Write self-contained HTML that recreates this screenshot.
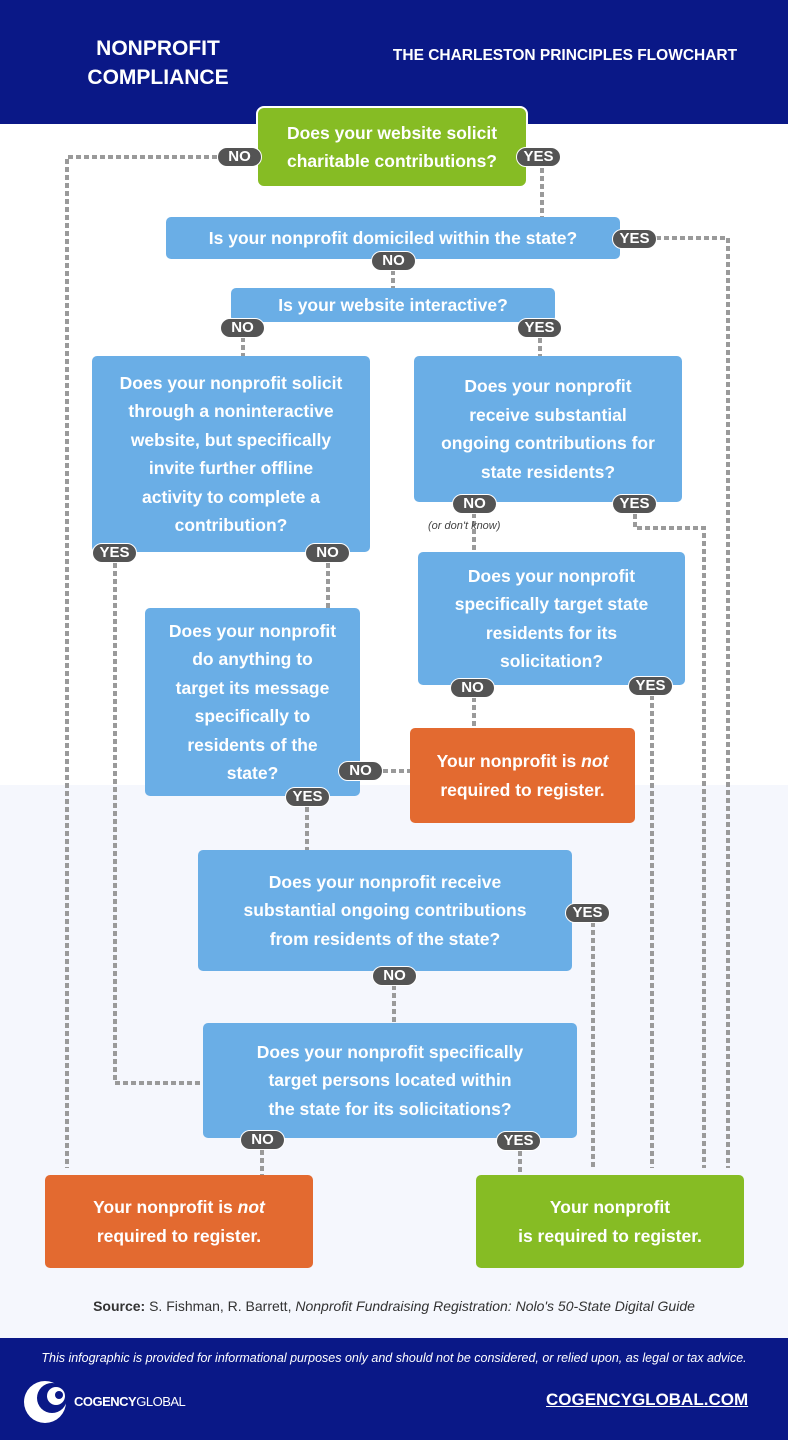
<!DOCTYPE html>
<html><head><meta charset="utf-8"><style>
*{margin:0;padding:0;box-sizing:border-box}
body{width:788px;height:1440px;position:relative;background:#fff;font-family:"Liberation Sans",sans-serif;overflow:hidden}
.hdr{position:absolute;left:0;top:0;width:788px;height:124px;background:#0a1887}
.light{position:absolute;left:0;top:785px;width:788px;height:553px;background:#f5f7fd}
.ftr{position:absolute;left:0;top:1338px;width:788px;height:102px;background:#0a1887}
.b{position:absolute;display:flex;align-items:center;justify-content:center;text-align:center;color:#fff;font-weight:bold;font-size:17.5px;line-height:28.5px;border-radius:5px}
.blue{background:#6aaee6}
.green{background:#86bc24}
.orange{background:#e36a30}
.bd{position:absolute;width:45px;height:20px;border-radius:10px;background:#545454;color:#fff;font-weight:bold;font-size:15px;line-height:18px;text-align:center;border:1.5px solid #fff}
svg{position:absolute;left:0;top:0}
</style></head><body>
<div class="hdr"></div>
<div class="light"></div>
<div class="ftr"></div>
<div style="position:absolute;left:60px;top:34px;width:196px;text-align:center;color:#fff;font-weight:bold;font-size:21px;line-height:29px">NONPROFIT<br>COMPLIANCE</div>
<div style="position:absolute;left:370px;top:47px;width:390px;text-align:center;color:#fff;font-size:15.5px;font-weight:bold;white-space:nowrap">THE CHARLESTON PRINCIPLES FLOWCHART</div>

<svg width="788" height="1440" fill="none" stroke="#9a9a9a" stroke-width="4" stroke-dasharray="5 3">
<path d="M217 157H67V1168"/>
<path d="M542 168V217"/>
<path d="M656 238H728V1168"/>
<path d="M393 270V288"/>
<path d="M243 337V356"/>
<path d="M540 338V356"/>
<path d="M115 563V1083H203"/>
<path d="M328 563V608"/>
<path d="M474 513V552"/>
<path d="M635 514V528H704V1168"/>
<path d="M474 697V728"/>
<path d="M652 695V1168"/>
<path d="M383 771H410"/>
<path d="M307 807V850"/>
<path d="M593 922V1168"/>
<path d="M394 985V1023"/>
<path d="M262 1150V1175"/>
<path d="M520 1151V1175"/>
</svg>

<div class="b green" style="left:256px;top:106px;width:272px;height:82px;border:2px solid #fff;border-radius:8px"><span>Does your website solicit<br>charitable contributions?</span></div>
<div class="b blue" style="left:166px;top:217px;width:454px;height:42px"><span>Is your nonprofit domiciled within the state?</span></div>
<div class="b blue" style="left:231px;top:288px;width:324px;height:34px"><span>Is your website interactive?</span></div>
<div class="b blue" style="left:92px;top:356px;width:278px;height:196px"><span>Does your nonprofit solicit<br>through a noninteractive<br>website, but specifically<br>invite further offline<br>activity to complete a<br>contribution?</span></div>
<div class="b blue" style="left:414px;top:356px;width:268px;height:146px"><span>Does your nonprofit<br>receive substantial<br>ongoing contributions for<br>state residents?</span></div>
<div class="b blue" style="left:418px;top:552px;width:267px;height:133px"><span>Does your nonprofit<br>specifically target state<br>residents for its<br>solicitation?</span></div>
<div class="b blue" style="left:145px;top:608px;width:215px;height:188px"><span>Does your nonprofit<br>do anything to<br>target its message<br>specifically to<br>residents of the<br>state?</span></div>
<div class="b orange" style="left:410px;top:728px;width:225px;height:95px"><span>Your nonprofit is <i>not</i><br>required to register.</span></div>
<div class="b blue" style="left:198px;top:850px;width:374px;height:121px"><span>Does your nonprofit receive<br>substantial ongoing contributions<br>from residents of the state?</span></div>
<div class="b blue" style="left:203px;top:1023px;width:374px;height:115px"><span>Does your nonprofit specifically<br>target persons located within<br>the state for its solicitations?</span></div>
<div class="b orange" style="left:45px;top:1175px;width:268px;height:93px"><span>Your nonprofit is <i>not</i><br>required to register.</span></div>
<div class="b green" style="left:476px;top:1175px;width:268px;height:93px"><span>Your nonprofit<br>is required to register.</span></div>

<div class="bd" style="left:217px;top:147px">NO</div>
<div class="bd" style="left:516px;top:147px">YES</div>
<div class="bd" style="left:612px;top:229px">YES</div>
<div class="bd" style="left:371px;top:251px">NO</div>
<div class="bd" style="left:220px;top:318px">NO</div>
<div class="bd" style="left:517px;top:318px">YES</div>
<div class="bd" style="left:92px;top:543px">YES</div>
<div class="bd" style="left:305px;top:543px">NO</div>
<div class="bd" style="left:452px;top:494px">NO</div>
<div class="bd" style="left:612px;top:494px">YES</div>
<div class="bd" style="left:450px;top:678px">NO</div>
<div class="bd" style="left:628px;top:676px">YES</div>
<div class="bd" style="left:338px;top:761px">NO</div>
<div class="bd" style="left:285px;top:787px">YES</div>
<div class="bd" style="left:565px;top:903px">YES</div>
<div class="bd" style="left:372px;top:966px">NO</div>
<div class="bd" style="left:240px;top:1130px">NO</div>
<div class="bd" style="left:496px;top:1131px">YES</div>
<div style="position:absolute;left:428px;top:520px;font-size:11px;font-style:italic;color:#444">(or don't know)</div>

<div style="position:absolute;left:0;top:1298px;width:788px;text-align:center;font-size:14px;color:#333"><b>Source:</b> S. Fishman, R. Barrett, <i>Nonprofit Fundraising Registration: Nolo's 50-State Digital Guide</i></div>
<div style="position:absolute;left:0;top:1351px;width:788px;text-align:center;font-size:12.5px;font-style:italic;color:#fff">This infographic is provided for informational purposes only and should not be considered, or relied upon, as legal or tax advice.</div>
<svg width="788" height="1440"><circle cx="45" cy="1402" r="21" fill="#fff"/><circle cx="52" cy="1398" r="15" fill="#0a1887"/><circle cx="56" cy="1396" r="9" fill="#fff"/><circle cx="59" cy="1395" r="4" fill="#0a1887"/></svg>
<div style="position:absolute;left:74px;top:1394px;color:#fff;font-size:13px;font-weight:bold;letter-spacing:-0.5px">COGENCY<span style="font-weight:normal">GLOBAL</span></div>
<div style="position:absolute;left:546px;top:1390px;color:#fff;font-size:17px;font-weight:bold;text-decoration:underline">COGENCYGLOBAL.COM</div>
</body></html>
